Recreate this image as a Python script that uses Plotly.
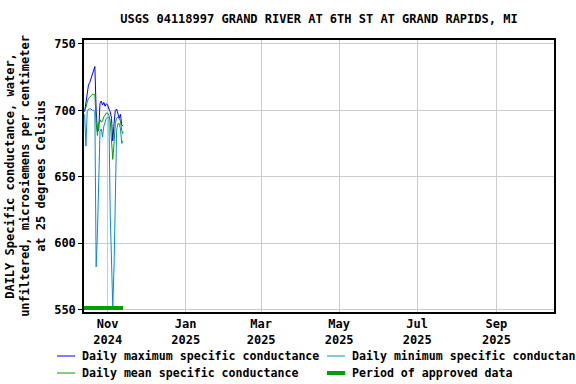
import plotly.graph_objects as go
import pandas as pd

# ---- data ----
dates = pd.date_range("2024-10-14", "2024-11-13", freq="D")
daily_max = [699, 706, 712, 719, 721, 724, 727, 731, 733, 700, 684, 685, 705, 707, 704, 706,
             703, 705, 704, 701, 699, 694, 677, 690, 700, 701, 697, 694, 697, 689, 688]
daily_mean = [700, 702, 706, 709, 710, 711, 712, 712, 712, 691, 681, 690, 693, 691, 692, 695,
              697, 698, 698, 696, 692, 680, 663, 675, 690, 694, 695, 694, 692, 685, 682]
daily_min = [697, 673, 699, 701, 701, 701, 700, 700, 699, 582, 607, 655, 684, 686, 680, 688,
             692, 694, 695, 694, 622, 576, 552, 582, 644, 685, 690, 690, 686, 675, 677]
approved_period = ["2024-10-13 12:00", "2024-11-13"]
approved_level = [551, 551]

x_tick_dates = ["2024-11-01", "2025-01-01", "2025-03-01", "2025-05-01", "2025-07-01", "2025-09-01"]
x_tick_labels = ["Nov<br>2024", "Jan<br>2025", "Mar<br>2025", "May<br>2025", "Jul<br>2025", "Sep<br>2025"]
y_tick_vals = [550, 600, 650, 700, 750]

title_text = "USGS 04118997 GRAND RIVER AT 6TH ST AT GRAND RAPIDS, MI"
y_title = ("DAILY Specific conductance, water,<br>unfiltered, microsiemens per centimeter"
           "<br>at 25 degrees Celsius")

series_names = ["Daily maximum specific conductance", "Daily minimum specific conductance",
                "Daily mean specific conductance", "Period of approved data"]
series_colors = ["#0000ff", "#0a8ad2", "#00a000", "#00a000"]
series_widths = [1, 1, 1, 4]

FONT = "DejaVu Sans Mono"
W, H = 576, 384
L, R, T, B = 84, 22, 40, 72
PW, PH = W - L - R, H - T - B


def px_x(px):
    return (px - L) / PW


def px_y(py):
    return (H - B - py) / PH


fig = go.Figure()
series_data = [daily_max, daily_min, daily_mean]
for name, vals, col, w in zip(series_names[:3], series_data, series_colors[:3], series_widths[:3]):
    fig.add_trace(go.Scatter(x=dates, y=vals, mode="lines", name=name,
                             line=dict(color=col, width=w), showlegend=False))
fig.add_trace(go.Scatter(x=approved_period, y=approved_level, mode="lines", name=series_names[3],
                         line=dict(color=series_colors[3], width=series_widths[3]), showlegend=False))

# ---- hand-drawn legend (2 x 2 grid) ----
legend_cols = [(57, 75, 80), (327, 345, 350)]
legend_rows = [356, 373]
shapes, annotations = [], []
for k, (name, col, w) in enumerate(zip(series_names, series_colors, series_widths)):
    x0, x1, xt = legend_cols[k % 2]
    yy = legend_rows[k // 2]
    shapes.append(dict(type="line", xref="paper", yref="paper", x0=px_x(x0), x1=px_x(x1),
                       y0=px_y(yy), y1=px_y(yy), line=dict(color=col, width=w)))
    annotations.append(dict(text=name, xref="paper", yref="paper", x=px_x(xt), y=px_y(yy),
                            xanchor="left", yanchor="middle", showarrow=False,
                            font=dict(family=FONT, size=11.6, weight="bold", color="black")))

fig.update_layout(
    width=W, height=H,
    margin=dict(l=L, r=R, t=T, b=B, autoexpand=False),
    paper_bgcolor="white", plot_bgcolor="white",
    font=dict(family=FONT, size=12, color="black", weight="bold"),
    title=dict(text=title_text, x=0.5, xref="paper", y=1 - 19 / H, yref="container",
               yanchor="middle", font=dict(family=FONT, size=12, weight="bold")),
    showlegend=False,
    shapes=shapes, annotations=annotations,
    xaxis=dict(type="date", range=["2024-10-13 12:00", "2025-10-16"], automargin=False,
               tickvals=x_tick_dates, ticktext=x_tick_labels, ticks="",
               showgrid=True, gridcolor="#cccccc", gridwidth=1,
               showline=True, linecolor="black", linewidth=1.5, mirror=True, zeroline=False),
    yaxis=dict(range=[548, 753], tickvals=y_tick_vals, ticks="outside", ticklen=4, tickcolor="black",
               automargin=False,
               showgrid=True, gridcolor="#cccccc", gridwidth=1,
               showline=True, linecolor="black", linewidth=1.5, mirror=True, zeroline=False,
               title=dict(text=y_title, font=dict(family=FONT, size=12, weight="bold"), standoff=6)),
)

fig.write_html("out.html", config={"displayModeBar": False},
               post_script="document.body.style.margin='0';document.body.style.padding='0';")
